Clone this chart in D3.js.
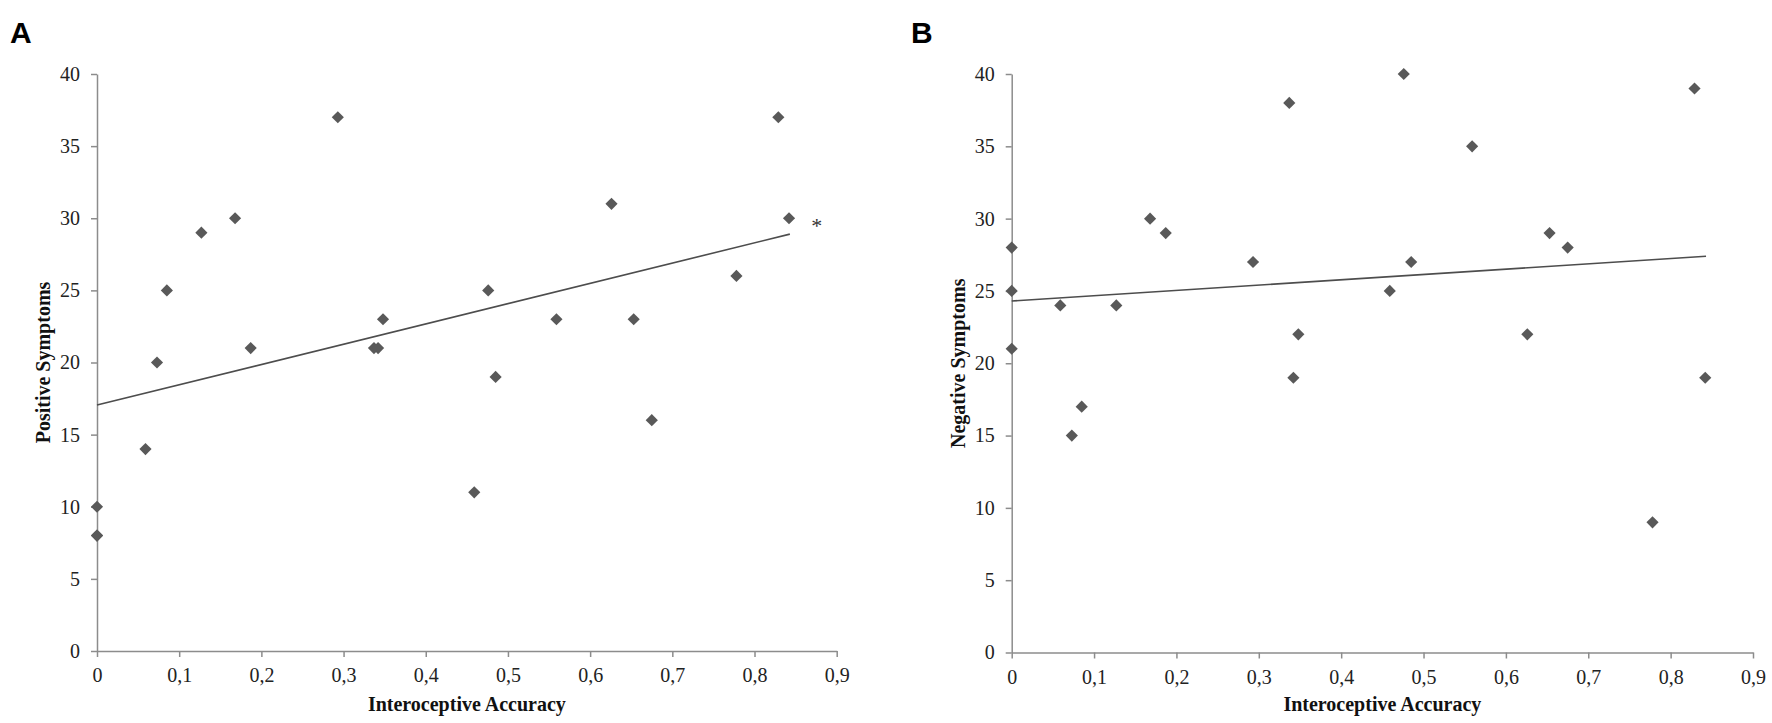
<!DOCTYPE html>
<html>
<head>
<meta charset="utf-8">
<script src="https://cdn.jsdelivr.net/npm/d3@7"></script>
<style>
  body { margin: 0; background: #fff; }
  svg { display: block; }
</style>
</head>
<body>
<div id="chart"></div>
<script>
// interoceptive accuracy per participant (same for both panels)
const accuracy = [0, 0, 0, 0.059, 0.073, 0.085, 0.127, 0.168, 0.187, 0.293, 0.337, 0.342, 0.348,
  0.459, 0.476, 0.485, 0.559, 0.626, 0.653, 0.675, 0.778, 0.829, 0.842];
const positiveSymptoms = [10, 8, 8, 14, 20, 25, 29, 30, 21, 37, 21, 21, 23,
  11, 25, 19, 23, 31, 23, 16, 26, 37, 30];
const negativeSymptoms = [28, 25, 21, 24, 15, 17, 24, 30, 29, 27, 38, 19, 22,
  25, 40, 27, 35, 22, 29, 28, 9, 39, 19];

// fitted trend lines
const trendX = [0, 0.843];
const trendPositive = [17.05, 28.9];
const trendNegative = [24.3, 27.4];

const xTicks = [0, 0.1, 0.2, 0.3, 0.4, 0.5, 0.6, 0.7, 0.8, 0.9];
const yTicks = [0, 5, 10, 15, 20, 25, 30, 35, 40];

const W = 1772, H = 723;
const svg = d3.select('#chart').append('svg').attr('width', W).attr('height', H);
svg.append('rect').attr('width', W).attr('height', H).attr('fill', '#fff');

const serif = '"Liberation Serif", "Times New Roman", serif';
const axisColor = '#8c8c8c';
const markColor = '#595959';
const fmt = (d) => (d === 0 ? '0' : d3.format('.1f')(d).replace('.', ','));

function panel(opts) {
  const x = d3.scaleLinear().domain([0, 0.9]).range([opts.left, opts.right]);
  const y = d3.scaleLinear().domain([0, 40]).range([opts.bottom, 74]);
  const g = svg.append('g');

  // x axis
  const gx = g.append('g')
    .attr('transform', `translate(0,${opts.bottom})`)
    .call(d3.axisBottom(x).tickValues(xTicks).tickFormat(fmt).tickSize(6).tickSizeOuter(0));
  gx.select('.domain').attr('stroke', axisColor).attr('stroke-width', 1.5);
  gx.selectAll('.tick line').attr('stroke', axisColor).attr('stroke-width', 1.5);
  gx.selectAll('.tick text')
    .attr('font-family', serif).attr('font-size', 20).attr('fill', '#222').attr('dy', '1.1em');

  // y axis
  const gy = g.append('g')
    .attr('transform', `translate(${opts.left},0)`)
    .call(d3.axisLeft(y).tickValues(yTicks).tickSize(6).tickSizeOuter(0));
  gy.select('.domain').attr('stroke', axisColor).attr('stroke-width', 1.5);
  gy.selectAll('.tick line').attr('stroke', axisColor).attr('stroke-width', 1.5);
  gy.selectAll('.tick text')
    .attr('font-family', serif).attr('font-size', 20).attr('fill', '#222').attr('x', -17);

  // axis titles
  g.append('text')
    .attr('x', (opts.left + opts.right) / 2)
    .attr('y', 711)
    .attr('text-anchor', 'middle')
    .attr('font-family', serif).attr('font-weight', 'bold').attr('font-size', 20)
    .attr('fill', '#111')
    .text('Interoceptive Accuracy');

  g.append('text')
    .attr('transform', `translate(${opts.left - 47},${(opts.bottom + 74) / 2}) rotate(-90)`)
    .attr('text-anchor', 'middle')
    .attr('font-family', serif).attr('font-weight', 'bold').attr('font-size', 20)
    .attr('fill', '#111')
    .text(opts.yTitle);

  // trend line
  const line = d3.line().x((d) => x(d[0])).y((d) => y(d[1]));
  g.append('path')
    .datum(d3.zip(trendX, opts.trend))
    .attr('fill', 'none')
    .attr('stroke', '#4d4d4d')
    .attr('stroke-width', 1.6)
    .attr('d', line);

  // diamonds
  const diamond = d3.symbol().type(d3.symbolSquare).size(74);
  g.append('g').selectAll('path')
    .data(d3.zip(accuracy, opts.values))
    .join('path')
    .attr('d', diamond)
    .attr('transform', (d) => `translate(${x(d[0])},${y(d[1])}) rotate(45)`)
    .attr('fill', markColor);

  // panel letter
  svg.append('text')
    .attr('x', opts.letterX)
    .attr('y', 43)
    .attr('font-family', '"Liberation Sans", Arial, sans-serif')
    .attr('font-weight', 'bold').attr('font-size', 30)
    .attr('fill', '#000')
    .text(opts.letter);

  return { x, y };
}

panel({
  left: 97, right: 836.7, bottom: 651,
  values: positiveSymptoms, trend: trendPositive,
  yTitle: 'Positive Symptoms', letter: 'A', letterX: 10
});

panel({
  left: 1011.7, right: 1753, bottom: 652.5,
  values: negativeSymptoms, trend: trendNegative,
  yTitle: 'Negative Symptoms', letter: 'B', letterX: 911
});

// significance marker next to the panel A trend line
svg.append('text')
  .attr('x', 816.7)
  .attr('y', 233)
  .attr('text-anchor', 'middle')
  .attr('font-family', serif).attr('font-size', 22)
  .attr('fill', '#333')
  .text('*');
</script>
</body>
</html>
